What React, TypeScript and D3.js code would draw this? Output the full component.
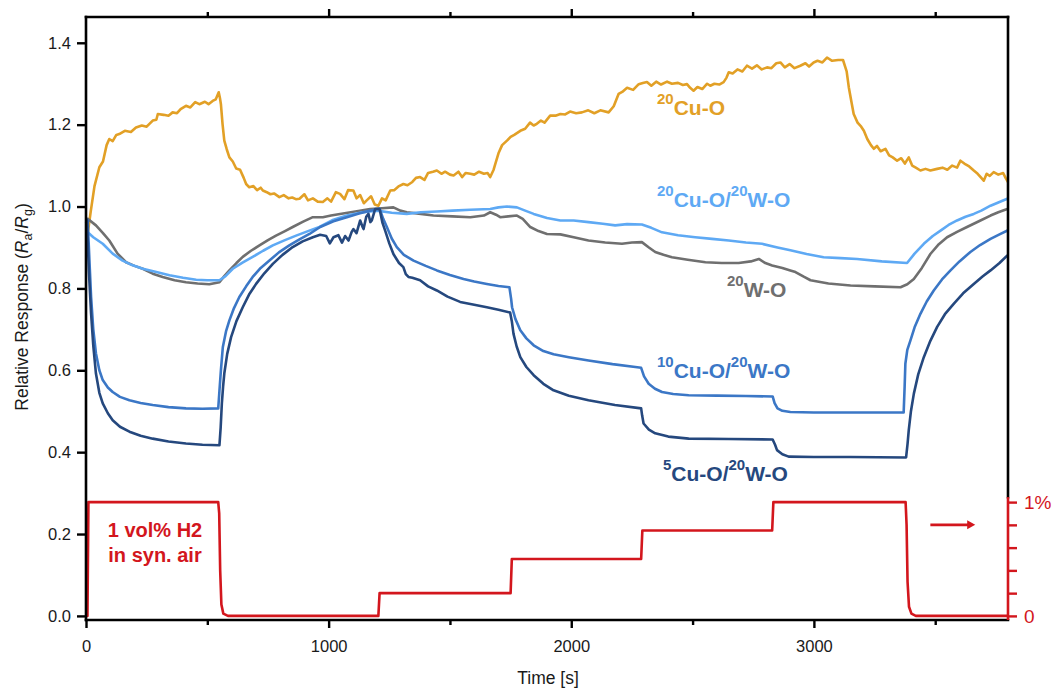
import React, { useEffect, useRef } from 'react';
import * as d3 from 'd3';

type Pt = [number, number];

// axis ticks
const timeTicks = [0, 1000, 2000, 3000];
const timeMinorTicks = [500, 1500, 2500, 3500];
const responseTicks = [0, 0.2, 0.4, 0.6, 0.8, 1.0, 1.2, 1.4];
const gasTicks = [0, 0.2, 0.4, 0.6, 0.8, 1];

// 20Cu-O (orange)
const cuO20: Pt[] = [
  [0, 0.94], [7, 0.934], [20, 0.99], [35, 1.05], [55, 1.096], [70, 1.11], [85, 1.15], [96, 1.165], [110, 1.16],
  [125, 1.175], [137, 1.177], [160, 1.185], [185, 1.182], [206, 1.193], [230, 1.198], [250, 1.195], [275, 1.21],
  [290, 1.212], [296, 1.226], [320, 1.224], [340, 1.222], [357, 1.23], [375, 1.228], [390, 1.238], [412, 1.246],
  [430, 1.242], [450, 1.255], [467, 1.25], [490, 1.256], [505, 1.25], [522, 1.258], [535, 1.262], [547, 1.279],
  [552, 1.265], [556, 1.25], [563, 1.2], [570, 1.161], [580, 1.14], [591, 1.12], [605, 1.11], [619, 1.093],
  [635, 1.09], [650, 1.07], [660, 1.055], [673, 1.047], [690, 1.05], [705, 1.04], [720, 1.046], [729, 1.039],
  [745, 1.035], [760, 1.03], [775, 1.032], [797, 1.023], [815, 1.028], [835, 1.02], [850, 1.022], [865, 1.018],
  [880, 1.019], [900, 1.03], [915, 1.015], [935, 1.02], [955, 1.012], [976, 1.011], [995, 1.02], [1010, 1.012],
  [1030, 1.035], [1047, 1.031], [1065, 1.018], [1080, 1.04], [1102, 1.039], [1115, 1.02], [1130, 1.028],
  [1145, 1.008], [1157, 1.015], [1175, 1.025], [1190, 1.005], [1205, 1.002], [1220, 1.02], [1235, 1.015],
  [1254, 1.039], [1270, 1.04], [1290, 1.05], [1308, 1.055], [1325, 1.052], [1345, 1.06], [1360, 1.07],
  [1377, 1.072], [1395, 1.065], [1410, 1.082], [1430, 1.085], [1446, 1.088], [1465, 1.08], [1480, 1.085],
  [1500, 1.078], [1515, 1.076], [1535, 1.085], [1550, 1.072], [1565, 1.082], [1584, 1.08], [1600, 1.078],
  [1620, 1.085], [1640, 1.08], [1655, 1.082], [1666, 1.072], [1680, 1.09], [1687, 1.104], [1700, 1.13],
  [1715, 1.15], [1735, 1.161], [1750, 1.17], [1765, 1.175], [1790, 1.185], [1810, 1.19], [1830, 1.205],
  [1845, 1.198], [1858, 1.202], [1875, 1.21], [1890, 1.205], [1913, 1.222], [1935, 1.222], [1955, 1.226],
  [1975, 1.225], [1995, 1.232], [2020, 1.228], [2044, 1.23], [2070, 1.235], [2095, 1.228], [2120, 1.235],
  [2154, 1.23], [2175, 1.245], [2195, 1.275], [2210, 1.28], [2230, 1.29], [2255, 1.285], [2278, 1.299],
  [2295, 1.302], [2312, 1.304], [2330, 1.295], [2350, 1.305], [2370, 1.298], [2395, 1.305], [2415, 1.3],
  [2440, 1.302], [2460, 1.297], [2477, 1.299], [2490, 1.29], [2504, 1.283], [2520, 1.292], [2540, 1.287],
  [2560, 1.3], [2573, 1.295], [2590, 1.3], [2610, 1.298], [2628, 1.304], [2640, 1.315], [2649, 1.328],
  [2665, 1.325], [2685, 1.335], [2705, 1.33], [2724, 1.344], [2745, 1.337], [2765, 1.345], [2785, 1.335],
  [2807, 1.34], [2825, 1.338], [2845, 1.35], [2862, 1.352], [2880, 1.34], [2900, 1.348], [2920, 1.338],
  [2944, 1.344], [2965, 1.35], [2980, 1.342], [2999, 1.352], [3015, 1.356], [3035, 1.352], [3054, 1.364],
  [3075, 1.356], [3100, 1.358], [3120, 1.358], [3135, 1.33], [3144, 1.291], [3155, 1.255], [3164, 1.226],
  [3180, 1.205], [3195, 1.195], [3206, 1.185], [3220, 1.165], [3235, 1.15], [3247, 1.141], [3260, 1.148],
  [3275, 1.135], [3295, 1.141], [3310, 1.125], [3325, 1.12], [3343, 1.112], [3360, 1.118], [3375, 1.105],
  [3391, 1.12], [3405, 1.1], [3420, 1.095], [3439, 1.088], [3460, 1.092], [3480, 1.088], [3508, 1.092],
  [3530, 1.095], [3550, 1.09], [3570, 1.1], [3590, 1.095], [3604, 1.112], [3620, 1.105], [3640, 1.098],
  [3659, 1.088], [3675, 1.08], [3690, 1.07], [3700, 1.063], [3712, 1.08], [3725, 1.075], [3741, 1.084],
  [3760, 1.078], [3780, 1.082], [3790, 1.07], [3800, 1.06],
];

// 20Cu-O/20W-O (light blue)
const cuO20wO20: Pt[] = [
  [0, 0.94], [7, 0.937], [30, 0.925], [69, 0.909], [110, 0.885], [151, 0.868], [190, 0.857], [234, 0.848],
  [290, 0.84], [344, 0.832], [400, 0.826], [454, 0.821], [500, 0.82], [550, 0.82], [575, 0.83], [605, 0.848],
  [645, 0.863], [687, 0.877], [730, 0.892], [770, 0.905], [820, 0.918], [866, 0.929], [915, 0.94], [962, 0.95],
  [1020, 0.968], [1075, 0.978], [1140, 0.986], [1199, 0.99], [1260, 0.985], [1322, 0.982], [1380, 0.986],
  [1446, 0.988], [1510, 0.99], [1584, 0.992], [1666, 0.994], [1700, 0.998], [1735, 1.0], [1776, 0.998],
  [1810, 0.99], [1845, 0.982], [1900, 0.972], [1955, 0.966], [2010, 0.966], [2071, 0.962], [2130, 0.958],
  [2181, 0.954], [2230, 0.957], [2291, 0.956], [2330, 0.948], [2374, 0.937], [2440, 0.93], [2511, 0.925],
  [2580, 0.921], [2649, 0.917], [2720, 0.912], [2786, 0.909], [2850, 0.9], [2903, 0.893], [2970, 0.884],
  [3040, 0.876], [3110, 0.874], [3178, 0.872], [3280, 0.866], [3384, 0.862], [3415, 0.885], [3453, 0.909],
  [3490, 0.928], [3522, 0.941], [3555, 0.955], [3590, 0.966], [3625, 0.975], [3659, 0.982], [3690, 0.99],
  [3728, 1.002], [3760, 1.01], [3797, 1.019], [3800, 1.02],
];

// 20W-O (grey)
const wO20: Pt[] = [
  [0, 0.96], [7, 0.97], [41, 0.954], [70, 0.935], [96, 0.917], [130, 0.885], [165, 0.864], [200, 0.855],
  [234, 0.848], [275, 0.836], [316, 0.828], [365, 0.82], [412, 0.815], [460, 0.812], [508, 0.81], [550, 0.815],
  [570, 0.83], [591, 0.844], [620, 0.862], [646, 0.877], [680, 0.892], [715, 0.905], [750, 0.918], [783, 0.929],
  [820, 0.94], [852, 0.95], [895, 0.963], [935, 0.974], [976, 0.974], [1010, 0.978], [1047, 0.982], [1110, 0.988],
  [1171, 0.994], [1220, 0.996], [1267, 0.998], [1295, 0.99], [1322, 0.986], [1380, 0.982], [1432, 0.978],
  [1510, 0.976], [1584, 0.974], [1640, 0.978], [1666, 0.986], [1690, 0.98], [1707, 0.974], [1740, 0.976],
  [1776, 0.978], [1800, 0.97], [1831, 0.95], [1865, 0.94], [1900, 0.933], [1955, 0.932], [2010, 0.925],
  [2071, 0.917], [2140, 0.912], [2209, 0.909], [2250, 0.912], [2291, 0.913], [2320, 0.9], [2346, 0.889],
  [2380, 0.882], [2415, 0.876], [2480, 0.87], [2553, 0.864], [2620, 0.862], [2690, 0.862], [2740, 0.866],
  [2773, 0.872], [2800, 0.862], [2828, 0.856], [2870, 0.85], [2903, 0.844], [2924, 0.84], [2960, 0.828],
  [2986, 0.82], [3060, 0.812], [3151, 0.807], [3250, 0.805], [3357, 0.803], [3385, 0.81], [3412, 0.823],
  [3445, 0.85], [3480, 0.884], [3515, 0.908], [3549, 0.925], [3590, 0.938], [3631, 0.95], [3680, 0.964],
  [3728, 0.978], [3760, 0.986], [3797, 0.994], [3800, 0.995],
];

// 10Cu-O/20W-O (mid blue)
const cuO10wO20: Pt[] = [
  [0, 0.97], [7, 0.966], [14, 0.87], [21, 0.779], [30, 0.7], [41, 0.641], [55, 0.6], [69, 0.576], [90, 0.558],
  [110, 0.547], [140, 0.535], [179, 0.527], [225, 0.52], [275, 0.515], [340, 0.51], [412, 0.507], [480, 0.506],
  [545, 0.507], [550, 0.55], [556, 0.6], [564, 0.657], [577, 0.695], [591, 0.722], [610, 0.752], [632, 0.779],
  [660, 0.805], [687, 0.828], [720, 0.85], [756, 0.868], [795, 0.888], [838, 0.905], [880, 0.92], [921, 0.933],
  [965, 0.95], [1020, 0.964], [1075, 0.974], [1125, 0.983], [1171, 0.99], [1210, 0.995], [1225, 0.97],
  [1240, 0.95], [1260, 0.922], [1281, 0.901], [1310, 0.882], [1350, 0.868], [1400, 0.855], [1446, 0.844],
  [1500, 0.833], [1556, 0.823], [1600, 0.817], [1652, 0.811], [1700, 0.806], [1745, 0.803], [1752, 0.775],
  [1756, 0.754], [1770, 0.725], [1790, 0.698], [1815, 0.678], [1845, 0.661], [1885, 0.647], [1927, 0.639],
  [1990, 0.632], [2071, 0.624], [2170, 0.615], [2264, 0.608], [2288, 0.606], [2300, 0.585], [2319, 0.567],
  [2345, 0.555], [2374, 0.547], [2420, 0.542], [2484, 0.539], [2600, 0.538], [2720, 0.537], [2830, 0.536],
  [2838, 0.52], [2850, 0.507], [2870, 0.501], [2903, 0.498], [3000, 0.497], [3178, 0.497], [3370, 0.497],
  [3374, 0.56], [3377, 0.616], [3385, 0.65], [3398, 0.673], [3415, 0.705], [3439, 0.738], [3465, 0.768],
  [3494, 0.795], [3528, 0.822], [3563, 0.844], [3600, 0.866], [3645, 0.889], [3685, 0.906], [3728, 0.921],
  [3765, 0.932], [3800, 0.942],
];

// 5Cu-O/20W-O (dark blue)
const cuO5wO20: Pt[] = [
  [0, 0.97], [4, 0.966], [12, 0.84], [21, 0.738], [30, 0.66], [41, 0.592], [55, 0.545], [69, 0.519], [90, 0.495],
  [110, 0.478], [140, 0.462], [179, 0.45], [225, 0.44], [275, 0.433], [340, 0.426], [412, 0.421], [480, 0.418],
  [550, 0.417], [555, 0.46], [560, 0.52], [565, 0.56], [570, 0.592], [582, 0.64], [598, 0.681], [620, 0.72],
  [646, 0.754], [672, 0.785], [701, 0.811], [735, 0.837], [770, 0.86], [810, 0.882], [852, 0.901], [893, 0.915],
  [935, 0.925], [965, 0.931], [990, 0.928], [1005, 0.91], [1020, 0.925], [1040, 0.93], [1055, 0.912],
  [1068, 0.928], [1082, 0.917], [1095, 0.938], [1102, 0.945], [1115, 0.935], [1130, 0.966], [1140, 0.95],
  [1144, 0.945], [1155, 0.975], [1164, 0.982], [1172, 0.962], [1178, 0.966], [1192, 0.994], [1210, 0.994],
  [1222, 0.96], [1233, 0.941], [1250, 0.91], [1267, 0.884], [1290, 0.862], [1308, 0.852], [1318, 0.835],
  [1329, 0.828], [1345, 0.826], [1377, 0.82], [1410, 0.805], [1446, 0.795], [1490, 0.78], [1542, 0.767],
  [1600, 0.76], [1652, 0.754], [1700, 0.748], [1748, 0.741], [1755, 0.72], [1762, 0.689], [1775, 0.658],
  [1790, 0.632], [1815, 0.608], [1845, 0.588], [1885, 0.567], [1927, 0.551], [1990, 0.538], [2071, 0.527],
  [2180, 0.515], [2288, 0.507], [2292, 0.49], [2298, 0.47], [2320, 0.455], [2346, 0.446], [2400, 0.438],
  [2484, 0.433], [2650, 0.432], [2830, 0.431], [2840, 0.418], [2848, 0.405], [2870, 0.395], [2896, 0.389],
  [3000, 0.388], [3150, 0.388], [3380, 0.387], [3386, 0.42], [3391, 0.454], [3400, 0.5], [3412, 0.543],
  [3430, 0.59], [3453, 0.632], [3480, 0.672], [3508, 0.706], [3540, 0.737], [3577, 0.763], [3615, 0.788],
  [3659, 0.811], [3695, 0.829], [3728, 0.844], [3765, 0.862], [3800, 0.882],
];

// H2 concentration (right axis, %)
const h2Conc: Pt[] = [
  [0, 0], [6, 0], [10, 1], [545, 1], [549, 0.9], [553, 0.4], [558, 0.1], [566, 0.02], [585, 0], [1205, 0],
  [1210, 0.2], [1750, 0.2], [1755, 0.5], [2288, 0.5], [2293, 0.75], [2828, 0.75], [2833, 1], [3378, 1],
  [3382, 0.8], [3386, 0.3], [3392, 0.08], [3402, 0.02], [3420, 0], [3800, 0],
];

type Label = { sup: string; text: string }[];

const seriesList: { name: string; data: Pt[]; color: string; label: Label; lx: number; ly: number }[] = [
  { name: '20Cu-O', data: cuO20, color: '#E2A026', label: [{ sup: '20', text: 'Cu-O' }], lx: 657, ly: 115 },
  { name: '20W-O', data: wO20, color: '#6F6F6F', label: [{ sup: '20', text: 'W-O' }], lx: 727, ly: 297 },
  { name: '20Cu-O/20W-O', data: cuO20wO20, color: '#5EA9F4', label: [{ sup: '20', text: 'Cu-O/' }, { sup: '20', text: 'W-O' }], lx: 657, ly: 207 },
  { name: '10Cu-O/20W-O', data: cuO10wO20, color: '#3B77C6', label: [{ sup: '10', text: 'Cu-O/' }, { sup: '20', text: 'W-O' }], lx: 657, ly: 378 },
  { name: '5Cu-O/20W-O', data: cuO5wO20, color: '#25487E', label: [{ sup: '5', text: 'Cu-O/' }, { sup: '20', text: 'W-O' }], lx: 663, ly: 481 },
];

const RED = '#D3161D';
const FONT = '"Liberation Sans", Arial, sans-serif';

export default function App() {
  const svgRef = useRef<SVGSVGElement>(null);
  const width = 1053;
  const height = 688;

  useEffect(() => {
    if (!svgRef.current) return;
    const svg = d3.select(svgRef.current);
    svg.selectAll('*').remove();

    const left = 86, right = 1008, top = 17, bottom = 620;

    const x = d3.scaleLinear().domain([0, 3800]).range([left, right]);
    const y = d3.scaleLinear().domain([-0.01, 1.463]).range([bottom, top]);
    const yGas = d3.scaleLinear().domain([0, 1]).range([y(0), y(0.278)]);

    const g = svg.append('g').style('font-family', FONT);

    // series
    const line = d3.line<Pt>().x(d => x(d[0])).y(d => y(d[1]));
    seriesList.forEach(s => {
      g.append('path')
        .datum(s.data)
        .attr('fill', 'none')
        .attr('stroke', s.color)
        .attr('stroke-width', 2.6)
        .attr('stroke-linejoin', 'round')
        .attr('d', line);
    });

    // gas profile
    const gasLine = d3.line<Pt>().x(d => x(d[0])).y(d => yGas(d[1]));
    g.append('path')
      .datum(h2Conc)
      .attr('fill', 'none')
      .attr('stroke', RED)
      .attr('stroke-width', 2.6)
      .attr('stroke-linejoin', 'round')
      .attr('d', gasLine);

    // frame
    const frame = g.append('g').attr('stroke-width', 2.6).attr('stroke-linecap', 'square');
    frame.append('line').attr('x1', left).attr('x2', right).attr('y1', top).attr('y2', top).attr('stroke', '#000');
    frame.append('line').attr('x1', left).attr('x2', right).attr('y1', bottom).attr('y2', bottom).attr('stroke', '#000');
    frame.append('line').attr('x1', left).attr('x2', left).attr('y1', top).attr('y2', bottom).attr('stroke', '#000');
    frame.append('line').attr('x1', right).attr('x2', right).attr('y1', top).attr('y2', yGas(1) - 5).attr('stroke', '#000');
    frame.append('line').attr('x1', right).attr('x2', right).attr('y1', yGas(1) - 5).attr('y2', bottom).attr('stroke', RED).attr('stroke-linecap', 'butt');

    // bottom axis
    const xAxis = g.append('g')
      .attr('transform', `translate(0,${bottom})`)
      .call(d3.axisBottom(x).tickValues(timeTicks).tickSize(8).tickPadding(12).tickFormat(d3.format('d') as any));
    xAxis.select('.domain').remove();
    xAxis.selectAll('line').attr('stroke-width', 2.4);
    xAxis.selectAll('text').style('font-size', '16.5px').style('font-family', FONT).attr('fill', '#1a1a1a');

    const xMinor = g.append('g')
      .attr('transform', `translate(0,${bottom})`)
      .call(d3.axisBottom(x).tickValues(timeMinorTicks).tickSize(5).tickFormat(() => ''));
    xMinor.select('.domain').remove();
    xMinor.selectAll('line').attr('stroke-width', 2.4);

    // top axis
    const xTop = g.append('g')
      .attr('transform', `translate(0,${top})`)
      .call(d3.axisTop(x).tickValues(timeTicks.slice(1)).tickSize(8).tickFormat(() => ''));
    xTop.select('.domain').remove();
    xTop.selectAll('line').attr('stroke-width', 2.4);
    const xTopMinor = g.append('g')
      .attr('transform', `translate(0,${top})`)
      .call(d3.axisTop(x).tickValues(timeMinorTicks).tickSize(5).tickFormat(() => ''));
    xTopMinor.select('.domain').remove();
    xTopMinor.selectAll('line').attr('stroke-width', 2.4);

    // left axis
    const yAxis = g.append('g')
      .attr('transform', `translate(${left},0)`)
      .call(d3.axisLeft(y).tickValues(responseTicks).tickSize(9).tickPadding(6).tickFormat(d3.format('.1f') as any));
    yAxis.select('.domain').remove();
    yAxis.selectAll('line').attr('stroke-width', 2.4);
    yAxis.selectAll('text').style('font-size', '16.5px').style('font-family', FONT).attr('fill', '#1a1a1a');

    // right axis (gas)
    const yRight = g.append('g')
      .attr('transform', `translate(${right},0)`)
      .call(d3.axisRight(yGas).tickValues(gasTicks).tickSize(9).tickPadding(7)
        .tickFormat((d: any) => (d === 0 ? '0' : d === 1 ? '1%' : '')));
    yRight.select('.domain').remove();
    yRight.selectAll('line').attr('stroke', RED).attr('stroke-width', 2.4);
    yRight.selectAll('text').style('font-size', '19px').style('font-family', FONT).attr('fill', RED);

    // axis titles
    g.append('text')
      .attr('x', (left + right) / 2 + 1)
      .attr('y', 684)
      .attr('text-anchor', 'middle')
      .style('font-size', '17.5px')
      .attr('fill', '#1a1a1a')
      .text('Time [s]');

    const yt = g.append('text')
      .attr('transform', 'translate(28,307) rotate(-90)')
      .attr('text-anchor', 'middle')
      .style('font-size', '17.5px')
      .attr('fill', '#1a1a1a');
    yt.append('tspan').text('Relative Response (');
    yt.append('tspan').style('font-style', 'italic').text('R');
    yt.append('tspan').attr('dy', 4).style('font-size', '12.5px').text('a');
    yt.append('tspan').attr('dy', -4).text('/');
    yt.append('tspan').style('font-style', 'italic').text('R');
    yt.append('tspan').attr('dy', 4).style('font-size', '12.5px').text('g');
    yt.append('tspan').attr('dy', -4).text(')');

    // series labels
    seriesList.forEach(s => {
      const t = g.append('text')
        .attr('x', s.lx)
        .attr('y', s.ly)
        .attr('fill', s.color)
        .style('font-weight', 'bold')
        .style('font-size', '21px');
      s.label.forEach(part => {
        t.append('tspan').attr('dy', -11.5).style('font-size', '15px').text(part.sup);
        t.append('tspan').attr('dy', 11.5).text(part.text);
      });
    });

    // gas annotation
    const gasText = g.append('text')
      .attr('text-anchor', 'middle')
      .attr('fill', RED)
      .style('font-weight', 'bold')
      .style('font-size', '20px');
    gasText.append('tspan').attr('x', 155).attr('y', 537).text('1 vol% H2');
    gasText.append('tspan').attr('x', 155).attr('y', 562).text('in syn. air');

    // arrow pointing to right axis
    const ay = yGas(0.8);
    g.append('line')
      .attr('x1', x(3480)).attr('x2', x(3640))
      .attr('y1', ay).attr('y2', ay)
      .attr('stroke', RED).attr('stroke-width', 2.6);
    g.append('path')
      .attr('d', `M${x(3640) - 2},${ay - 4.5} L${x(3665)},${ay} L${x(3640) - 2},${ay + 4.5} Z`)
      .attr('fill', RED);
  }, []);

  return (
    <div style={{ position: 'absolute', left: 0, top: 0 }}>
      <svg ref={svgRef} width={width} height={height} style={{ display: 'block', background: '#fff' }}></svg>
    </div>
  );
}
